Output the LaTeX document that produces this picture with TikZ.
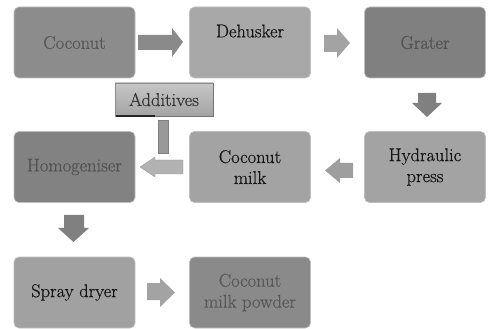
\documentclass[tikz,border=0pt]{standalone}
\usepackage{fontspec}
\newfontfamily\boxfont{Latin Modern Roman}[FakeBold=0.5]
\begin{document}
\begin{tikzpicture}[x=1pt,y=-1pt,
  box/.style={rounded corners=5pt, minimum width=121pt, minimum height=71pt, inner sep=0pt,
    draw=black!25, line width=0.6pt, align=center, font=\boxfont\fontsize{18.5}{21}\selectfont}
]
\useasboundingbox (0,0) rectangle (491,329);
% boxes
\node[box, fill=black!45, text=black!66] (coconut) at (74.5,42.5) {Coconut};
\node[box, fill=black!34] (dehusker) at (250,42.5) {};
\node[text=black!92, font=\boxfont\fontsize{18.5}{21}\selectfont] (dehuskerlabel) at (250,31) {Dehusker};
\node[box, fill=black!50, text=black!68] (grater) at (425,42.5) {Grater};
\node[box, fill=black!49, text=black!68] (homog) at (74.5,167) {Homogeniser};
\node[box, fill=black!36, text=black!92] (cmilk) at (250,167) {Coconut\\milk};
\node[box, fill=black!36, text=black!92] (hpress) at (425,167) {Hydraulic\\press};
\node[box, fill=black!37, text=black!92] (spray) at (74.5,292.5) {Spray dryer};
\node[box, fill=black!46, text=black!66] (powder) at (250,292.5) {Coconut\\milk powder};
% additives
\shade[top color=black!22, bottom color=black!36, draw=black!45, line width=0.6pt] (115,83) rectangle (213,116);
\draw[black!85, line width=2pt] (116,116.5) -- (155,116.5);
\draw[black!55, line width=1pt] (155,116.5) -- (213,116.5) -- (213,83);
\node[text=black!80, font=\boxfont\fontsize{18.5}{19}\selectfont] (additives) at (164,99.5) {Additives};
% block arrows
\fill[black!46] (138,35) -- (172,35) -- (172,28) -- (183,42) -- (172,57) -- (172,50) -- (138,50) -- cycle;
\fill[black!36] (324,35) -- (337,35) -- (337,28) -- (350,43) -- (337,58) -- (337,52) -- (324,52) -- cycle;
\fill[black!50] (418,93) -- (436,93) -- (436,103) -- (442,103) -- (427,117) -- (412,103) -- (418,103) -- cycle;
\fill[black!38] (353,163) -- (340,163) -- (340,158) -- (325,170.5) -- (340,183) -- (340,178) -- (353,178) -- cycle;
\fill[black!30, draw=black!40, line width=0.4pt] (183,160) -- (155,160) -- (155,157) -- (140,167) -- (155,177) -- (155,174) -- (183,174) -- cycle;
\fill[black!40, draw=black!50, line width=0.4pt] (158,120) rectangle (168,153);
\fill[black!50] (64,215) -- (84,215) -- (84,228) -- (89,228) -- (73.5,242) -- (58,228) -- (64,228) -- cycle;
\fill[black!36] (147,283) -- (160,283) -- (160,278) -- (175,292.5) -- (160,307) -- (160,300) -- (147,300) -- cycle;
\end{tikzpicture}
\end{document}
